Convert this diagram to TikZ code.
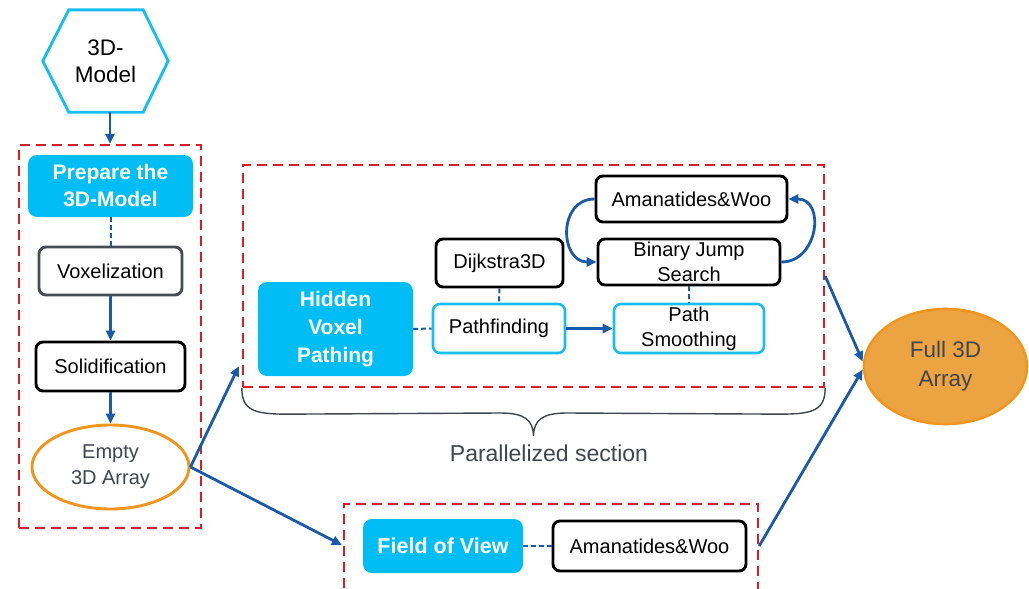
\documentclass[tikz,border=0pt]{standalone}
\usepackage{fontspec}
\setmainfont{Liberation Sans}
\usetikzlibrary{calc,arrows.meta,shapes.geometric}
\newcommand{\fsz}[2]{\fontsize{#1}{#2}\selectfont}
\definecolor{cyanfill}{RGB}{0,190,245}
\definecolor{cyanline}{RGB}{25,190,240}
\definecolor{reddash}{RGB}{220,30,40}
\definecolor{arrowblue}{RGB}{25,90,170}
\definecolor{orangeline}{RGB}{240,150,30}
\definecolor{orangefill}{RGB}{236,163,66}
\definecolor{darkgraytext}{RGB}{64,70,80}
\definecolor{boxgray}{RGB}{70,75,85}
\tikzset{
  base/.style={inner sep=0pt, align=center, font=\fsz{20}{25}},
  blackbox/.style={base, draw=black, line width=2.9pt, rounded corners=7pt, fill=white},
  graybox/.style={base, draw=boxgray, line width=2.9pt, rounded corners=7pt, fill=white},
  cyanbox/.style={base, fill=cyanfill, rounded corners=9pt, text=white},
  cyanframe/.style={base, draw=cyanline, line width=2.6pt, rounded corners=7pt, fill=white},
  redbox/.style={draw=reddash, line width=2.3pt, dash pattern=on 10pt off 6pt, inner sep=0pt},
  arr/.style={draw=arrowblue, line width=2.8pt, -{Triangle[length=10pt,width=9pt]}},
  conn/.style={draw=arrowblue, line width=2pt, dash pattern=on 5pt off 3pt},
  hexline/.style={draw=cyanline, line width=2.9pt, line join=miter},
}
\begin{document}
\begin{tikzpicture}[x=1pt,y=-1pt]
\useasboundingbox (0,0) rectangle (1029,589);
\fill[white] (0,0) rectangle (1029,589);

% dashed frames
\node[redbox, minimum width=182pt, minimum height=383pt] (leftbox) at (110,336.5) {};
\node[redbox, minimum width=581pt, minimum height=222pt] (upbox) at (533.5,276) {};
\node[redbox, minimum width=414pt, minimum height=90pt] (fovbox) at (551,549) {};

% hexagon
\node[base, minimum width=125pt, minimum height=102pt, font=\fsz{22.5}{27}] (hex) at (105.5,61) {3D-\\Model};
\draw[hexline] (hex.west) -- ($(hex.north west)+(26,0)$) -- ($(hex.north east)+(-25,0)$) -- (hex.east)
  -- ($(hex.south east)+(-25,0)$) -- ($(hex.south west)+(26,0)$) -- cycle;

% left column
\node[cyanbox, font=\bfseries\fsz{21}{27}, minimum width=165pt, minimum height=62pt] (prep) at (110.5,186) {Prepare the\\3D-Model};
\node[graybox, minimum width=143pt, minimum height=48pt] (vox) at (110.5,271) {Voxelization};
\node[blackbox, minimum width=149pt, minimum height=49pt] (solid) at (110.5,366.5) {Solidification};
\node[base, ellipse, draw=orangeline, line width=2.9pt, fill=white, text=darkgraytext, font=\fsz{20}{26},
      minimum width=157pt, minimum height=84pt] (empty) at (110.5,467) {\raisebox{-3pt}{Empty}\\\raisebox{-3pt}{3D Array}};

% upper section
\node[cyanbox, font=\bfseries\fsz{21}{28}, minimum width=155pt, minimum height=94pt] (hidden) at (335.5,329) {Hidden\\Voxel\\Pathing};
\node[cyanframe, minimum width=132pt, minimum height=49pt] (pathf) at (499,328.5) {Pathfinding};
\node[blackbox, minimum width=127pt, minimum height=48pt] (dijk) at (499.5,263) {Dijkstra3D};
\node[cyanframe, minimum width=150pt, minimum height=49pt] (ps) at (689,328.5) {Path\\Smoothing};
\node[blackbox, minimum width=182pt, minimum height=46pt] (bjs) at (689,262) {Binary Jump\\Search};
\node[blackbox, minimum width=191pt, minimum height=46pt] (aman) at (691.5,199) {Amanatides\&Woo};

% lower section
\node[cyanbox, font=\bfseries\fsz{21.5}{28}, minimum width=160pt, minimum height=54pt] (fov) at (443,546) {Field of View};
\node[blackbox, minimum width=193pt, minimum height=50pt] (aman2) at (649.5,546) {Amanatides\&Woo};

% result
\node[base, ellipse, draw=orangeline, line width=2.6pt, fill=orangefill, text=darkgraytext, font=\fsz{22.5}{29},
      minimum width=163pt, minimum height=115pt] (full) at (945.5,366.5) {Full 3D\\Array};

% brace + label
\draw[draw=darkgraytext, line width=1.4pt]
  (upbox.south west) .. controls ($(upbox.south west)+(0,22)$) and ($(upbox.south west)+(12,26)$) .. ($(upbox.south west)+(45,26)$)
  -- (500,413) .. controls (525,413) and (533,420) .. (533.5,436)
  .. controls (534,420) and (542,413) .. (567,413)
  -- ($(upbox.south east)+(-45,26)$) .. controls ($(upbox.south east)+(-12,26)$) and ($(upbox.south east)+(0,22)$) .. (upbox.south east);
\node[base, font=\fsz{23}{26}, text=darkgraytext] (parlabel) at (549,453) {Parallelized section};

% connectors
\draw[arr] (hex.south -| leftbox.north) -- (leftbox.north);
\draw[conn] (prep.south) -- (vox.north);
\draw[arr] (vox.south) -- (solid.north);
\draw[arr] (solid.south) -- (empty.north);
\draw[arr] (empty.east) -- ($(upbox.south west)+(-3,-22)$);
\draw[arr] (empty.east) -- ($(fovbox.west)+(-1,-4)$);
\draw[conn] (hidden.east) -- (pathf.west);
\draw[conn] (dijk.south) -- (pathf.north);
\draw[arr] (pathf.east) -- (ps.west);
\draw[conn] (bjs.south) -- (ps.north);
\draw[arr] (aman.west) to[out=180,in=180,looseness=1.5] (bjs.west);
\draw[arr] (bjs.east) to[out=0,in=0,looseness=1.5] (aman.east);
\draw[conn] (fov.east) -- (aman2.west);
\draw[arr] (upbox.east) -- ($(full.west)+(0,-5)$);
\draw[arr] ($(fovbox.east)+(0,-3)$) -- ($(full.west)+(0,3)$);
\end{tikzpicture}
\end{document}
